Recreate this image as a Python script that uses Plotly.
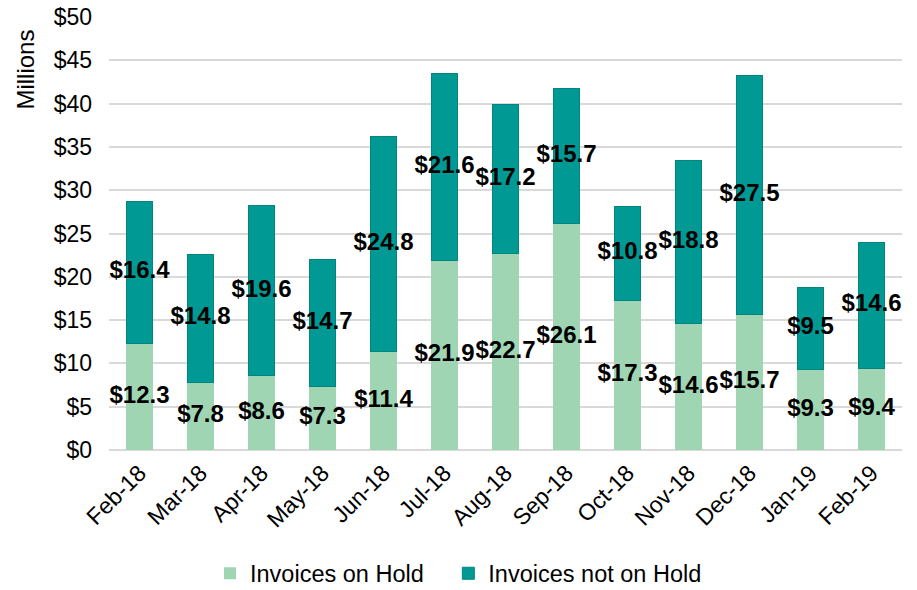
import plotly.graph_objects as go

months = ["Feb-18", "Mar-18", "Apr-18", "May-18", "Jun-18", "Jul-18", "Aug-18",
          "Sep-18", "Oct-18", "Nov-18", "Dec-18", "Jan-19", "Feb-19"]
on_hold = [12.3, 7.8, 8.6, 7.3, 11.4, 21.9, 22.7, 26.1, 17.3, 14.6, 15.7, 9.3, 9.4]
not_on_hold = [16.4, 14.8, 19.6, 14.7, 24.8, 21.6, 17.2, 15.7, 10.8, 18.8, 27.5, 9.5, 14.6]
series_names = ["Invoices on Hold", "Invoices not on Hold"]
y_ticks = [0, 5, 10, 15, 20, 25, 30, 35, 40, 45, 50]
y_tick_labels = ["$" + str(v) for v in y_ticks]

LIGHT = "#9fd5b2"
TEAL = "#009994"
FONT = "Liberation Sans, Arial, sans-serif"
PAD = "\u00a0\u00a0\u00a0"  # extra space between legend entries

fig = go.Figure()
fig.add_trace(go.Bar(x=months, y=on_hold, name=series_names[0] + PAD,
                     marker=dict(color=LIGHT, line=dict(width=0))))
fig.add_trace(go.Bar(x=months, y=not_on_hold, name=series_names[1],
                     marker=dict(color=TEAL, line=dict(color="#00857f", width=1))))

# labels at segment middles
mid_bottom = [v / 2 for v in on_hold]
mid_top = [a + b / 2 for a, b in zip(on_hold, not_on_hold)]
fig.add_trace(go.Scatter(
    x=months + months, y=mid_bottom + mid_top, mode="text",
    text=["$%.1f" % v for v in on_hold] + ["$%.1f" % v for v in not_on_hold],
    textfont=dict(family=FONT, size=24, color="black", weight="bold"),
    textposition="middle center", showlegend=False, hoverinfo="skip"))

fig.update_layout(
    barmode="stack",
    bargap=0.57,
    width=917, height=590,
    margin=dict(l=109, r=15, t=17, b=140),
    plot_bgcolor="white", paper_bgcolor="white",
    font=dict(family=FONT, size=23, color="black"),
    showlegend=True,
    legend=dict(orientation="h", xref="container", x=0.5, xanchor="center",
                yref="container", y=0.028, yanchor="middle",
                font=dict(size=23.5), traceorder="normal", itemwidth=30),
    annotations=[dict(text="Millions", xref="paper", yref="paper",
                      x=-0.105, y=0.975, xanchor="center", yanchor="top",
                      textangle=-90, showarrow=False,
                      font=dict(family=FONT, size=24, color="black"))],
)
fig.update_xaxes(range=[-0.5, 12.5], tickangle=-45, showgrid=False, showline=False,
                 ticks="", tickfont=dict(size=23), automargin=False,
                 ticklabelstandoff=4)
fig.update_yaxes(range=[0, 50], tickvals=y_ticks, ticktext=y_tick_labels,
                 showgrid=True, gridcolor="#d9d9d9", gridwidth=1.5,
                 zeroline=True, zerolinecolor="#d9d9d9", zerolinewidth=1.5,
                 showline=False, ticks="", ticklabelstandoff=16,
                 ticklabeloverflow="allow",
                 tickfont=dict(size=23), automargin=False)

fig.write_html("out.html", config={"displayModeBar": False},
               post_script="document.body.style.margin='0px';")
